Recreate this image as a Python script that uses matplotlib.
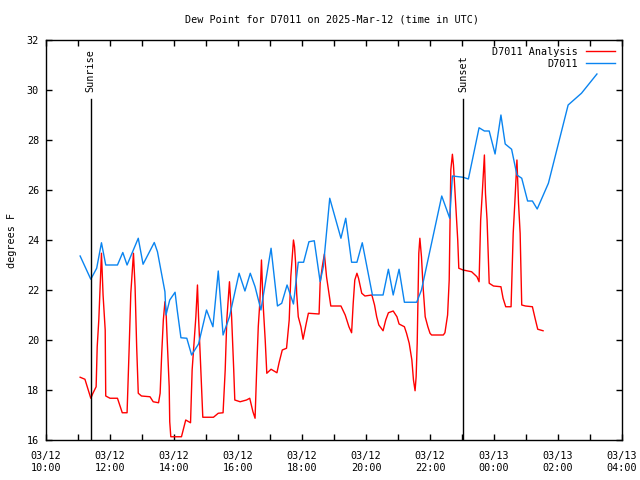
import matplotlib
matplotlib.use("Agg")
import matplotlib.pyplot as plt
import matplotlib.dates as mdates
import pandas as pd

title = "Dew Point for D7011 on 2025-Mar-12 (time in UTC)"
ylabel = "degrees F"
analysis_label = "D7011 Analysis"
obs_label = "D7011"

obs_times = ["03-12 11:04", "03-12 11:24", "03-12 11:35", "03-12 11:44", "03-12 11:52", "03-12 12:14",
             "03-12 12:24", "03-12 12:32", "03-12 12:53", "03-12 13:02", "03-12 13:23", "03-12 13:29",
             "03-12 13:43", "03-12 13:45", "03-12 13:52", "03-12 14:02", "03-12 14:06", "03-12 14:13",
             "03-12 14:24", "03-12 14:33", "03-12 14:46", "03-12 15:01", "03-12 15:13", "03-12 15:23",
             "03-12 15:32", "03-12 15:44", "03-12 16:02", "03-12 16:13", "03-12 16:23", "03-12 16:32",
             "03-12 16:43", "03-12 17:02", "03-12 17:14", "03-12 17:22", "03-12 17:32", "03-12 17:44",
             "03-12 17:53", "03-12 18:03", "03-12 18:13", "03-12 18:23", "03-12 18:34", "03-12 18:40",
             "03-12 18:52", "03-12 19:13", "03-12 19:22", "03-12 19:33", "03-12 19:43", "03-12 19:53",
             "03-12 20:12", "03-12 20:32", "03-12 20:42", "03-12 20:51", "03-12 21:02", "03-12 21:12",
             "03-12 21:35", "03-12 21:44", "03-12 22:22", "03-12 22:37", "03-12 22:42", "03-12 23:02",
             "03-12 23:12", "03-12 23:32", "03-12 23:42", "03-12 23:51", "03-13 00:02", "03-13 00:13",
             "03-13 00:21", "03-13 00:33", "03-13 00:43", "03-13 00:52", "03-13 01:03", "03-13 01:12",
             "03-13 01:21", "03-13 01:42", "03-13 02:19", "03-13 02:44", "03-13 03:13"]
obs_values = [23.36, 22.43, 22.87, 23.89, 23.0, 23.0,
              23.5, 23.0, 24.07, 23.03, 23.9, 23.53,
              21.93, 21.0, 21.6, 21.91, 21.2, 20.09,
              20.07, 19.4, 19.84, 21.2, 20.53, 22.76,
              20.2, 20.93, 22.67, 21.96, 22.67, 22.13,
              21.2, 23.67, 21.36, 21.47, 22.2, 21.44,
              23.11, 23.11, 23.93, 23.97, 22.33, 22.93,
              25.67, 24.07, 24.87, 23.11, 23.11, 23.89,
              21.8, 21.8, 22.83, 21.8, 22.83, 21.51,
              21.51, 22.0, 25.76, 24.87, 26.56, 26.51,
              26.44, 28.49, 28.36, 28.36, 27.44, 29.0,
              27.84, 27.63, 26.6, 26.47, 25.56, 25.56,
              25.24, 26.27, 29.4, 29.87, 30.64]

ana_times = ["03-12 11:04", "03-12 11:13", "03-12 11:24", "03-12 11:28", "03-12 11:34", "03-12 11:36",
             "03-12 11:39", "03-12 11:43", "03-12 11:44", "03-12 11:47", "03-12 11:51", "03-12 11:52",
             "03-12 12:00", "03-12 12:14", "03-12 12:23", "03-12 12:32", "03-12 12:36", "03-12 12:39",
             "03-12 12:44", "03-12 12:47", "03-12 12:50", "03-12 12:53", "03-12 12:59", "03-12 13:15",
             "03-12 13:21", "03-12 13:31", "03-12 13:34", "03-12 13:37", "03-12 13:40", "03-12 13:43",
             "03-12 13:45", "03-12 13:47", "03-12 13:51", "03-12 13:52", "03-12 13:54", "03-12 14:14",
             "03-12 14:22", "03-12 14:31", "03-12 14:34", "03-12 14:37", "03-12 14:41", "03-12 14:44",
             "03-12 14:46", "03-12 14:49", "03-12 14:54", "03-12 15:14", "03-12 15:23", "03-12 15:32",
             "03-12 15:36", "03-12 15:39", "03-12 15:44", "03-12 15:48", "03-12 15:52", "03-12 15:54",
             "03-12 16:04", "03-12 16:16", "03-12 16:22", "03-12 16:28", "03-12 16:32", "03-12 16:35",
             "03-12 16:38", "03-12 16:41", "03-12 16:44", "03-12 16:47", "03-12 16:51", "03-12 16:54",
             "03-12 17:02", "03-12 17:13", "03-12 17:17", "03-12 17:23", "03-12 17:31", "03-12 17:33",
             "03-12 17:36", "03-12 17:39", "03-12 17:44", "03-12 17:46", "03-12 17:48", "03-12 17:50",
             "03-12 17:53", "03-12 17:58", "03-12 18:02", "03-12 18:08", "03-12 18:12", "03-12 18:32",
             "03-12 18:34", "03-12 18:38", "03-12 18:42", "03-12 18:46", "03-12 18:51", "03-12 18:54",
             "03-12 19:13", "03-12 19:21", "03-12 19:28", "03-12 19:33", "03-12 19:36", "03-12 19:39",
             "03-12 19:43", "03-12 19:46", "03-12 19:52", "03-12 19:58", "03-12 20:11", "03-12 20:16",
             "03-12 20:20", "03-12 20:24", "03-12 20:32", "03-12 20:37", "03-12 20:42", "03-12 20:51",
             "03-12 20:58", "03-12 21:02", "03-12 21:12", "03-12 21:16", "03-12 21:21", "03-12 21:26",
             "03-12 21:29", "03-12 21:32", "03-12 21:34", "03-12 21:36", "03-12 21:39", "03-12 21:41",
             "03-12 21:44", "03-12 21:47", "03-12 21:51", "03-12 21:56", "03-12 22:00", "03-12 22:03",
             "03-12 22:25", "03-12 22:28", "03-12 22:33", "03-12 22:36", "03-12 22:37", "03-12 22:39",
             "03-12 22:42", "03-12 22:44", "03-12 22:48", "03-12 22:52", "03-12 22:54", "03-12 23:02",
             "03-12 23:18", "03-12 23:28", "03-12 23:32", "03-12 23:35", "03-12 23:38", "03-12 23:42",
             "03-12 23:44", "03-12 23:47", "03-12 23:51", "03-12 23:59", "03-13 00:13", "03-13 00:17",
             "03-13 00:22", "03-13 00:32", "03-13 00:36", "03-13 00:39", "03-13 00:43", "03-13 00:46",
             "03-13 00:49", "03-13 00:52", "03-13 00:59", "03-13 01:12", "03-13 01:17", "03-13 01:22",
             "03-13 01:32"]
ana_values = [18.51, 18.43, 17.67, 17.87, 18.13, 19.73,
              20.8, 22.87, 23.47, 21.8, 20.4, 17.76,
              17.67, 17.67, 17.09, 17.09, 19.73, 21.87,
              23.47, 22.13, 19.73, 17.87, 17.76, 17.73,
              17.53, 17.49, 17.87, 19.47, 20.8, 21.53,
              21.2, 20.13, 18.13, 16.73, 16.13, 16.13,
              16.8, 16.69, 18.8, 19.73, 20.93, 22.2,
              20.93, 19.47, 16.91, 16.91, 17.07, 17.09,
              18.8, 20.8, 22.33, 20.93, 18.8, 17.6,
              17.53, 17.6, 17.67, 17.13, 16.87, 18.8,
              20.53, 21.53, 23.2, 21.47, 20.0, 18.67,
              18.83, 18.69, 19.09, 19.6, 19.67, 20.13,
              20.8, 22.53, 24.0, 23.73, 23.07, 21.87,
              20.93, 20.53, 20.03, 20.67, 21.07, 21.04,
              22.27, 22.93, 23.44, 22.53, 21.8, 21.36,
              21.36, 21.0, 20.53, 20.29, 21.47, 22.4,
              22.67, 22.47, 21.87, 21.76, 21.8, 21.4,
              20.93, 20.6, 20.37, 20.8, 21.09, 21.16,
              20.93, 20.64, 20.53, 20.27, 19.87, 19.2,
              18.4, 17.97, 18.53, 19.87, 23.47, 24.07,
              23.33, 22.13, 20.93, 20.53, 20.27, 20.2,
              20.2, 20.29, 21.0, 22.4, 23.87, 26.8,
              27.43, 27.0, 25.47, 24.0, 22.87, 22.8,
              22.73, 22.53, 22.33, 24.8, 25.87, 27.4,
              25.87, 24.8, 22.27, 22.16, 22.13, 21.67,
              21.33, 21.33, 24.27, 25.47, 27.2, 25.47,
              24.27, 21.4, 21.36, 21.33, 20.87, 20.43,
              20.37]

sun_events = ["Sunrise", "Sunset"]
sun_times = ["03-12 11:24", "03-12 23:02"]
sun_line_top = 29.64

x_start = "03-12 10:00"
x_end = "03-13 04:00"
y_min, y_max = 16, 32


def to_dt(strs):
    return pd.to_datetime(["2025-" + s for s in strs], format="%Y-%m-%d %H:%M")


FS = 7.3
plt.rcParams['font.family'] = ['DejaVu Sans Mono']
plt.rcParams['font.size'] = FS

fig = plt.figure(figsize=(6.4, 4.8), dpi=100)
ax = fig.add_axes([46 / 640, 40 / 480, 576 / 640, 400 / 480])

ax.plot(to_dt(ana_times), ana_values, color='#ff0000', lw=1, label=analysis_label)
ax.plot(to_dt(obs_times), obs_values, color='#0a84f0', lw=1, label=obs_label)

for name, t in zip(sun_events, to_dt(sun_times)):
    ax.plot([t, t], [y_min, sun_line_top], color='black', lw=1)
    ax.text(t, sun_line_top + 0.28, name, rotation=90, ha='center', va='bottom',
            fontsize=FS)

ax.set_xlim(to_dt([x_start])[0], to_dt([x_end])[0])
ax.set_ylim(y_min, y_max)
ax.set_yticks(range(y_min, y_max + 1, 2))
ax.xaxis.set_major_locator(mdates.HourLocator(interval=2))
ax.xaxis.set_minor_locator(mdates.HourLocator())
ax.xaxis.set_major_formatter(mdates.DateFormatter('%m/%d\n%H:%M'))
ax.tick_params(which='both', direction='in', top=True, right=True, length=4, width=1)
ax.tick_params(axis='x', pad=8)
ax.tick_params(axis='y', pad=5)
for s in ax.spines.values():
    s.set_linewidth(1)

ax.set_ylabel(ylabel)
ax.yaxis.set_label_coords(-(46 - 17) / 576, 0.5)
fig.text(332 / 640, 1 - 20 / 480, title, ha='center', va='center', fontsize=FS)

leg = ax.legend(loc='upper right', frameon=False, markerfirst=False, handlelength=2.9,
                borderaxespad=0.25, labelspacing=0.2, handletextpad=0.8, fontsize=FS)
for t in leg.get_texts():
    t.set_ha('right')

fig.savefig("out.png", dpi=100)
